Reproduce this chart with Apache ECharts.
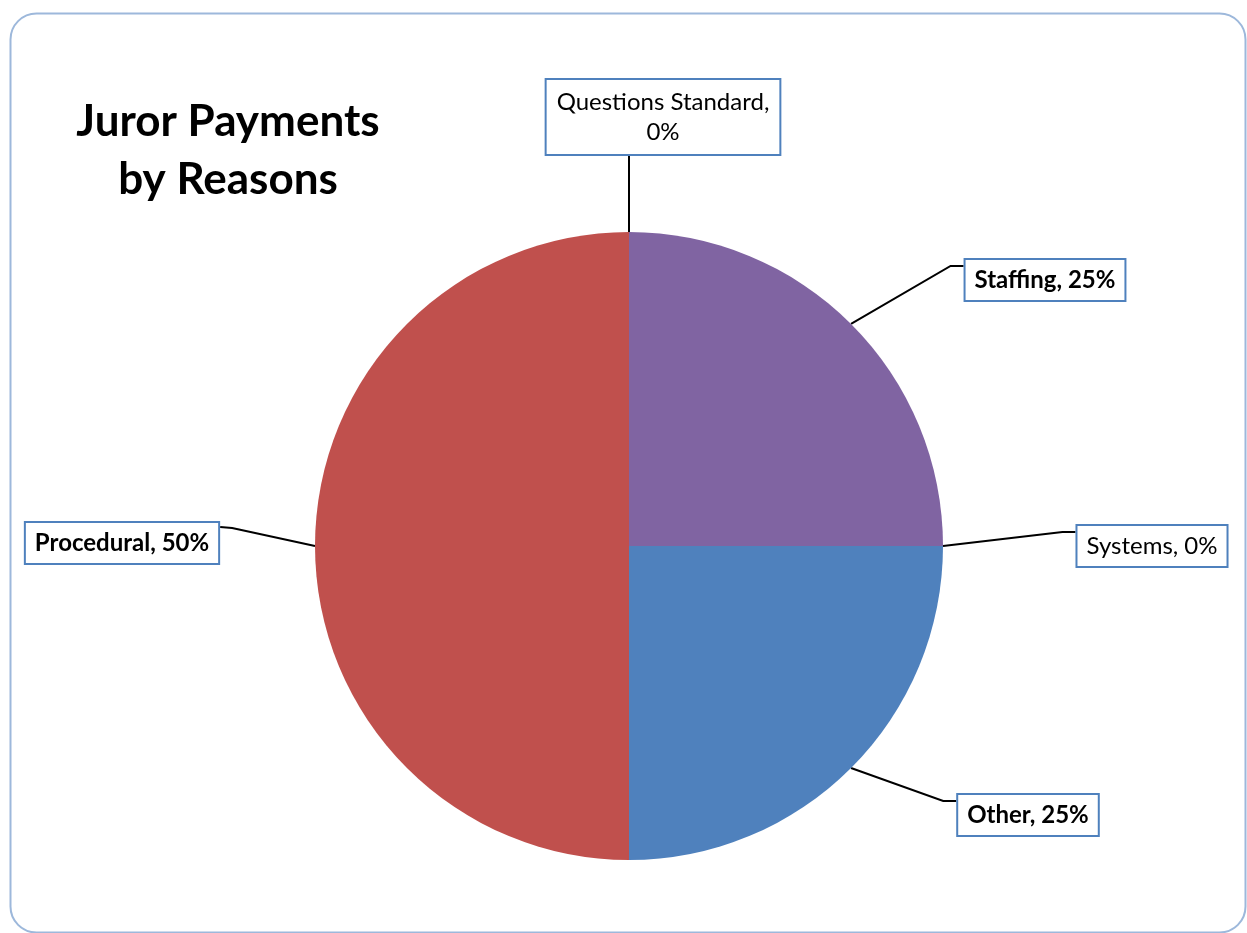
<!DOCTYPE html>
<html>
<head>
<meta charset="utf-8">
<title>Juror Payments by Reasons</title>
<script src="https://cdn.jsdelivr.net/npm/echarts@6/dist/echarts.min.js"></script>
<style>
  html, body { margin: 0; padding: 0; background: #ffffff; }
  #chart { width: 1247px; height: 933px; }
</style>
</head>
<body>
<div id="chart"></div>
<script>
// Reasons, in clockwise order starting from 12 o'clock
const reasons = ['Staffing', 'Systems', 'Other', 'Procedural', 'Questions Standard'];
const counts = [1, 0, 1, 2, 0];
const sliceColors = ['#8064A2', '#9BBB59', '#4F81BD', '#C0504D', '#4BACC6'];
const boldLabel = [true, false, true, true, false];
const twoLineLabel = [false, false, false, false, true];

// Where each callout box sits (box centre) and which side the leader enters from
const calloutSpots = [
  { x: 1045, y: 280, side: 'right' },
  { x: 1152, y: 546, side: 'right' },
  { x: 1028, y: 815, side: 'right' },
  { x: 122, y: 543, side: 'left' },
  { x: 663, y: 117, side: 'top' }
];

const FONT = 'Lato, "Open Sans", sans-serif';

const seriesData = reasons.map(function (name, i) {
  return {
    name: name,
    value: counts[i],
    itemStyle: { color: sliceColors[i] },
    label: {
      formatter: twoLineLabel[i] ? '{b},\n{d}%' : '{b}, {d}%',
      fontWeight: boldLabel[i] ? 'bold' : 'normal',
      lineHeight: twoLineLabel[i] ? 30 : 28,
      padding: twoLineLabel[i] ? [7, 10, 7, 10] : [6, 9, 6, 9]
    }
  };
});

const chart = echarts.init(document.getElementById('chart'), null, { renderer: 'canvas' });

chart.setOption({
  backgroundColor: '#ffffff',
  animation: false,
  title: {
    text: 'Juror Payments\nby Reasons',
    left: 223,
    top: 88,
    textAlign: 'center',
    textStyle: {
      fontFamily: FONT,
      fontSize: 44,
      fontWeight: 'bold',
      lineHeight: 58,
      color: '#000000'
    }
  },
  graphic: [{
    type: 'rect',
    left: 8,
    top: 11,
    shape: { width: 1235, height: 919, r: 26 },
    style: { fill: 'none', stroke: '#9DB8DB', lineWidth: 2 },
    z: -1
  }],
  series: [{
    type: 'pie',
    center: [629, 546],
    radius: 314,
    startAngle: 90,
    clockwise: true,
    avoidLabelOverlap: false,
    percentPrecision: 0,
    data: seriesData,
    label: {
      show: true,
      position: 'outside',
      fontFamily: FONT,
      fontSize: 24,
      color: '#000000',
      backgroundColor: '#ffffff',
      borderColor: '#4F81BD',
      borderWidth: 2
    },
    labelLine: {
      show: true,
      length: 20,
      length2: 20,
      lineStyle: { color: '#000000', width: 2 }
    },
    emphasis: { disabled: true },
    labelLayout: function (p) {
      const spot = calloutSpots[p.dataIndex];
      const w = p.labelRect.width;
      const h = p.labelRect.height;
      const left = spot.x - w / 2;
      const right = spot.x + w / 2;
      const top = spot.y - h / 2;
      const bottom = spot.y + h / 2;
      const start = p.labelLinePoints[0];
      let pts;
      if (spot.side === 'right') {
        pts = [start, [left - 13, top + 8], [left, top + 8]];
      } else if (spot.side === 'left') {
        pts = [start, [right + 12, top + 7], [right, top + 6]];
      } else {
        pts = [start, [start[0], bottom + 2], [start[0], bottom]];
      }
      return {
        x: spot.x,
        y: spot.y,
        align: 'center',
        verticalAlign: 'middle',
        labelLinePoints: pts
      };
    }
  }]
});
</script>
</body>
</html>
